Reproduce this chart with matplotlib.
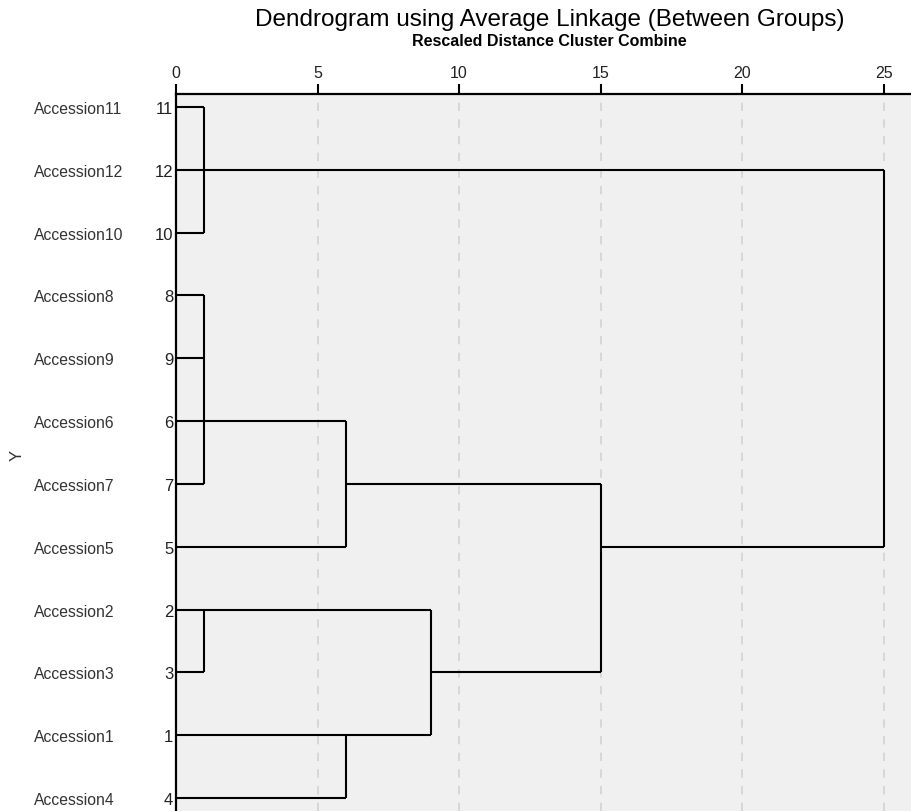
import matplotlib.pyplot as plt
from matplotlib import transforms

# leaves from top to bottom
leaf_ids = ['11', '12', '10', '8', '9', '6', '7', '5', '2', '3', '1', '4']
leaf_names = ['Accession11', 'Accession12', 'Accession10', 'Accession8', 'Accession9',
              'Accession6', 'Accession7', 'Accession5', 'Accession2', 'Accession3',
              'Accession1', 'Accession4']

# merges: children (leaf index 0-11, cluster index 12+), rescaled distance, row of the joint
merge_children = [[0, 1, 2], [3, 4, 5, 6], [8, 9], [13, 7], [10, 11], [14, 16], [15, 17], [12, 18]]
merge_height = [1, 1, 1, 6, 6, 9, 15, 25]
merge_row = [1, 5, 8, 6, 10, 9, 7, 4]

x_ticks = [0, 5, 10, 15, 20, 25]

plt.rcParams['font.family'] = ['Liberation Sans', 'DejaVu Sans']

fig = plt.figure(figsize=(9.12, 8.12), dpi=100)
ax = fig.add_axes([176 / 912, 0, 1 - 176 / 912, 1 - 95 / 812])
ax.set_facecolor('#f0f0f0')

n = len(leaf_ids)
height = [0] * n + merge_height
row = list(range(n)) + merge_row

for k, kids in enumerate(merge_children):
    h = merge_height[k]
    ys = [row[c] for c in kids]
    ax.plot([h, h], [min(ys), max(ys)], color='black', lw=1.5, solid_capstyle='butt', zorder=3)
    for c in kids:
        ax.plot([height[c], h], [row[c], row[c]], color='black', lw=1.5,
                solid_capstyle='butt', zorder=3)

ax.set_xlim(0, 26)
ax.set_ylim(n - 1 + 0.207, -0.207)

ax.xaxis.tick_top()
ax.set_xticks(x_ticks)
ax.set_xticklabels([str(t) for t in x_ticks], fontsize=11.5, color='#222222')
ax.tick_params(axis='x', direction='out', length=7, width=1.5, pad=3)
for t in x_ticks[1:]:
    ax.axvline(t, color='#d2d2d2', lw=1.2, ls=(0, (5, 5)), zorder=1)

ax.set_yticks(range(n))
ax.set_yticklabels(leaf_ids, fontsize=12, color='#222222')
ax.tick_params(axis='y', length=0, pad=2)

# accession names, figure x and data y
trans = transforms.blended_transform_factory(fig.transFigure, ax.transData)
for i, name in enumerate(leaf_names):
    ax.text(34 / 912, i, name, transform=trans, fontsize=11.3,
            color='#333333', ha='left', va='center_baseline', clip_on=False)

fig.text(17 / 912, 1 - 455 / 812, 'Y', rotation=90, fontsize=12, color='#333333',
         ha='center', va='center')

for side in ['right', 'bottom']:
    ax.spines[side].set_visible(False)
for side in ['top', 'left']:
    ax.spines[side].set_linewidth(1.6)
    ax.spines[side].set_color('black')

fig.text(550 / 912, 1 - 20 / 812, 'Dendrogram using Average Linkage (Between Groups)',
         fontsize=17.5, ha='center', va='center', color='black')
fig.text(549 / 912, 1 - 41 / 812, 'Rescaled Distance Cluster Combine',
         fontsize=11.5, fontweight='bold', ha='center', va='center', color='black')

fig.savefig('out.png', dpi=100)
